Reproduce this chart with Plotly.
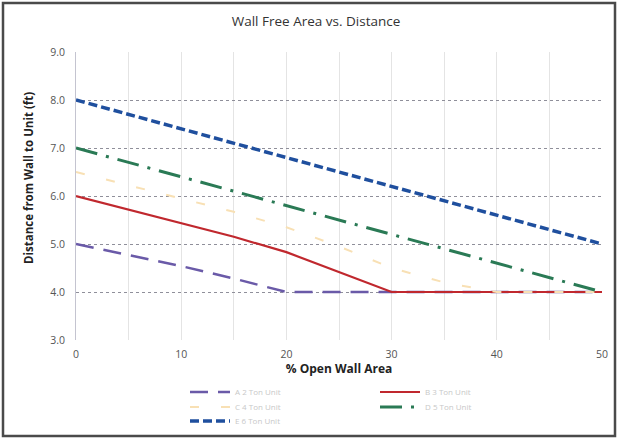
import plotly.graph_objects as go

# ---- data ----
pct_open = [0, 5, 10, 15, 20, 25, 30, 35, 40, 45, 50]
series_names = ["A 2 Ton Unit", "B 3 Ton Unit", "C 4 Ton Unit", "D 5 Ton Unit", "E 6 Ton Unit"]
purple_vals = [5.0, 4.77, 4.54, 4.28, 4.0, 4.0, 4.0, 4.0, 4.0, 4.0, 4.0]
red_vals = [6.0, 5.72, 5.43, 5.15, 4.83, 4.42, 4.0, 4.0, 4.0, 4.0, 4.0]
yellow_vals = [6.5, 6.22, 5.95, 5.67, 5.35, 4.95, 4.5, 4.2, 4.0, 4.0, 4.0]
green_vals = [7.0, 6.7, 6.4, 6.1, 5.8, 5.5, 5.2, 4.9, 4.6, 4.3, 4.0]
blue_vals = [8.0, 7.7, 7.4, 7.1, 6.8, 6.5, 6.2, 5.9, 5.6, 5.3, 5.0]
y_ticks = [3.0, 4.0, 5.0, 6.0, 7.0, 8.0, 9.0]
x_ticks = [0, 10, 20, 30, 40, 50]

W, H = 618, 439
L, R, T, B = 76, 16, 52, 99
PW, PH = W - L - R, H - T - B

def px_x(p):
    return (p - L) / PW

def px_y(p):
    return (H - B - p) / PH

fig = go.Figure()
styles = [
    (purple_vals, "#6a5aa8", 2.5, "18px,10px", "legend"),
    (red_vals, "#c0282e", 2.2, "solid", "legend"),
    (yellow_vals, "#f8e0b4", 2.0, "9px,22px", "legend2"),
    (green_vals, "#2a7a55", 3.0, "22px,9px,3px,9px", "legend2"),
    (blue_vals, "#1f4f9e", 3.5, "9px,4px", "legend3"),
]
for name, (vals, col, w, dash, lg) in zip(series_names, styles):
    fig.add_trace(go.Scatter(
        x=pct_open, y=vals, mode="lines", name=name,
        line=dict(color=col, width=w, dash=dash),
        legend=lg,
    ))

leg_common = dict(orientation="h", xanchor="left", yanchor="middle",
                  x=px_x(185), entrywidth=135, entrywidthmode="pixels",
                  itemwidth=40, bgcolor="rgba(0,0,0,0)",
                  font=dict(family="Open Sans", size=8, color="#c8c8c8"))

fig.update_layout(
    width=W, height=H,
    margin=dict(l=L, r=R, t=T, b=B, autoexpand=False),
    paper_bgcolor="white", plot_bgcolor="white",
    font=dict(family="Open Sans", color="#555"),
    title=dict(text="Wall Free Area vs. Distance", x=316 / W, xanchor="center",
               y=1 - 21 / H, yanchor="middle",
               font=dict(family="Open Sans", size=13.5, color="#333")),
    xaxis=dict(range=[0, 50], tickvals=x_ticks, showgrid=True, gridcolor="#e4e4e4",
               gridwidth=1, minor=dict(dtick=5, showgrid=True, gridcolor="#e4e4e4"),
               zeroline=False, showline=False, ticks="", ticklabelstandoff=6,
               tickfont=dict(family="Open Sans", size=10.5, color="#555"),
               title=dict(text="<b>% Open Wall Area</b>", standoff=4,
                          font=dict(family="Open Sans", size=12, color="#222"))),
    yaxis=dict(range=[3, 9], tickvals=y_ticks, tickformat=".1f", showgrid=True,
               gridcolor="#8f8f9a", griddash="dot", gridwidth=1, zeroline=False,
               showline=True, linecolor="#c4c4d0", linewidth=1, ticks="",
               ticklabelstandoff=8,
               tickfont=dict(family="Open Sans", size=10.5, color="#555")),
    legend=dict(y=px_y(392), **leg_common),
    legend2=dict(y=px_y(407), **leg_common),
    legend3=dict(y=px_y(421), **leg_common),
    showlegend=True,
)

fig.add_annotation(text="<b>Distance from Wall to Unit (ft)</b>", textangle=-90,
                   xref="paper", yref="paper", x=px_x(28), y=px_y(178),
                   xanchor="center", yanchor="middle", showarrow=False,
                   font=dict(family="Open Sans", size=11.5, color="#222"))

fig.add_shape(type="rect", xref="paper", yref="paper",
              x0=px_x(3), x1=px_x(615), y0=px_y(436), y1=px_y(3),
              line=dict(color="#4a4a4a", width=2.5), fillcolor="rgba(0,0,0,0)",
              layer="above")

fig.write_html("out.html")
